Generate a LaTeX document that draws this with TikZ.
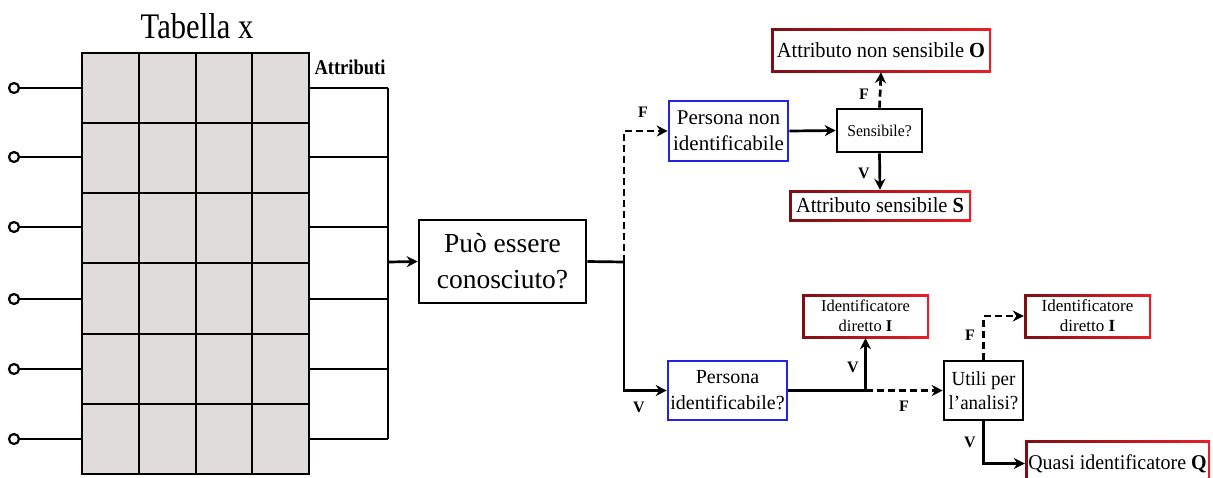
\documentclass[tikz,border=0pt]{standalone}
\usepackage{fontspec}
\setmainfont{Liberation Serif}
\usetikzlibrary{arrows.meta}
\definecolor{cellgray}{RGB}{224,220,220}
\definecolor{dred}{RGB}{125,15,20}
\definecolor{bred}{RGB}{235,30,40}
\definecolor{bblue}{RGB}{35,35,225}
\newcommand\myfs[2]{\fontsize{#1}{#2}\selectfont}
\begin{document}
\begin{tikzpicture}[x=1pt,y=-1pt,
  ln/.style={line width=2.7pt},
  arr/.style={ln,-{Stealth[length=11pt,width=11pt]}},
  darr/.style={arr,dash pattern=on 7pt off 4pt},
  box/.style={draw,line width=2.6pt,inner sep=0pt,align=center},
  bluebox/.style={box,draw=bblue},
  redbox/.style={inner sep=0pt,align=center,left color=dred,right color=bred,
    path picture={\fill[white] ([shift={(2.5pt,-2.5pt)}]path picture bounding box.north west)
      rectangle ([shift={(-2.5pt,2.5pt)}]path picture bounding box.south east);}},
  lab/.style={font=\myfs{16}{18}\bfseries,inner sep=0pt},
  dot/.style={circle,draw,line width=2.2pt,minimum size=10pt,inner sep=0pt,fill=white}
]
\useasboundingbox (0,0) rectangle (1213,477);
\fill[white] (0,0) rectangle (1213,477);
\clip (0,0) rectangle (1213,477);

% table
\node[anchor=base,inner sep=0pt,font=\myfs{36}{40}] (title) at (197,38.5) {\scalebox{0.85}[1]{Tabella x}};
\node[draw,fill=cellgray,line width=2.7pt,minimum width=227pt,minimum height=421pt,inner sep=0pt] (tab) at (195.5,263.5) {};
\foreach \x in {139,196,252} \draw[ln] (\x,53) -- (\x,474);
\foreach \y in {123,193,263,334,404} \draw[ln] (82,\y) -- (309,\y);
\node[anchor=base,inner sep=0pt,font=\myfs{21}{24}\bfseries] (attr) at (350,74) {\scalebox{0.88}[1]{Attributi}};

\foreach \i/\y in {1/88,2/157,3/227,4/299,5/369,6/439}{
  \node[dot] (c\i) at (14,\y) {};
  \draw[ln] (c\i) -- (tab.west |- c\i);
  \coordinate (r\i) at (388,\y);
  \draw[ln] (tab.east |- r\i) -- (r\i);
}
\draw[ln] (r1) -- (r6);
\coordinate (bus) at (388,262);

% main question
\node[box,minimum width=167pt,minimum height=83pt,font=\myfs{27.5}{36}] (q) at (502.5,261.5) {Può essere\\conosciuto?};
\draw[arr] (bus) -- (q.west);
\coordinate (j1) at (624,262);
\draw[ln] (q.east) -- (j1);

% upper branch
\node[bluebox,minimum width=119pt,minimum height=60pt,font=\myfs{21}{26}] (pni) at (728.5,131) {Persona non\\identificabile};
\node[box,minimum width=85pt,minimum height=43pt,font=\myfs{16.5}{19}] (sens) at (879.5,130.5) {\scalebox{0.95}[1]{Sensibile?}};
\node[redbox,minimum width=220pt,minimum height=44pt,font=\myfs{21.5}{24}] (O) at (881,50) {\scalebox{0.95}[1]{Attributo non sensibile \textbf{O}}};
\node[redbox,minimum width=182pt,minimum height=31pt,font=\myfs{21.5}{24}] (S) at (880,205.5) {\scalebox{0.95}[1]{Attributo sensibile \textbf{S}}};
\draw[darr] (j1) -- (j1 |- pni.west) -- (pni.west);
\draw[arr] (pni.east) -- (sens.west);
\draw[darr] (sens.north) -- (O.south);
\draw[arr] (sens.south) -- (S.north);
\node[lab] (fa) at (643,112) {F};
\node[lab] (fb) at (864,94) {F};
\node[lab] (va) at (864,173) {V};

% lower branch
\node[bluebox,minimum width=119pt,minimum height=59pt,font=\myfs{20}{26}] (pi) at (727.5,390.5) {Persona\\identificabile?};
\node[redbox,minimum width=127pt,minimum height=44pt,font=\myfs{16.5}{20}] (id1) at (865.5,316) {Identificatore\\diretto \textbf{I}};
\node[box,minimum width=79pt,minimum height=59pt,font=\myfs{20}{24}] (ut) at (983.5,390.5) {\scalebox{0.95}[1]{Utili per}\\\scalebox{0.95}[1]{l’analisi?}};
\node[redbox,minimum width=127pt,minimum height=44pt,font=\myfs{17}{20}] (id2) at (1087.5,316) {Identificatore\\diretto \textbf{I}};
\node[redbox,minimum width=185pt,minimum height=47pt,font=\myfs{21}{24}] (Q) at (1117.5,463.5) {\scalebox{0.95}[1]{Quasi identificatore \textbf{Q}}};
\draw[arr] (j1) -- (j1 |- pi.west) -- (pi.west);
\coordinate (j2) at (865.5,390.5);
\draw[ln] (pi.east) -- (j2);
\draw[arr] (j2) -- (id1.south);
\draw[darr] (j2) -- (ut.west);
\coordinate (k1) at (983.5,316);
\draw[darr] (ut.north) -- (k1) -- (id2.west);
\coordinate (k2) at (983.5,463.5);
\draw[arr] (ut.south) -- (k2) -- (Q.west);
\node[lab] (vb) at (639,407) {V};
\node[lab] (vc) at (853,367) {V};
\node[lab] (fc) at (904,406) {F};
\node[lab] (fd) at (970,335) {F};
\node[lab] (vd) at (970,442) {V};
\end{tikzpicture}
\end{document}
